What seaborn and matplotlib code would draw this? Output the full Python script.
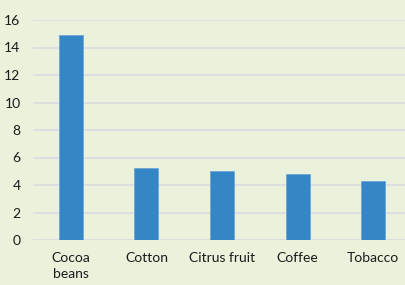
import matplotlib
matplotlib.use("Agg")
import matplotlib.pyplot as plt
import seaborn as sns
import pandas as pd

# Values
crops = ['Cocoa\nbeans', 'Cotton', 'Citrus fruit', 'Coffee', 'Tobacco']
values = [14.9, 5.25, 5.0, 4.8, 4.3]

df = pd.DataFrame({'crop': crops, 'value': values})

sns.set_style("white")
plt.rcParams['font.family'] = ['Lato', 'DejaVu Sans']

bg = '#EAF2DC'
fig = plt.figure(figsize=(4.05, 2.85), dpi=100, facecolor=bg)
ax = fig.add_axes([33 / 405, 1 - 240 / 285, 378 / 405, 220 / 285])
ax.set_facecolor(bg)

sns.barplot(data=df, x='crop', y='value', color='#3586C7', width=0.32,
            saturation=1, ax=ax, zorder=3, edgecolor='#6FA6D8', linewidth=0.6)

ax.set_ylim(0, 16)
ax.set_xlim(-0.5, 4.5)
ax.set_yticks(range(0, 17, 2))
ax.yaxis.grid(True, color='#D9DCE0', linewidth=1.2, zorder=0)
ax.set_axisbelow(True)
for s in ax.spines.values():
    s.set_visible(False)
ax.tick_params(axis='both', length=0, labelsize=10, colors='#1a1a1a')
ax.tick_params(axis='y', pad=9)
ax.tick_params(axis='x', pad=9)
for lbl in ax.get_xticklabels():
    lbl.set_linespacing(1.4)
ax.set_xlabel('')
ax.set_ylabel('')

fig.savefig('out.png', dpi=100, facecolor=bg)
